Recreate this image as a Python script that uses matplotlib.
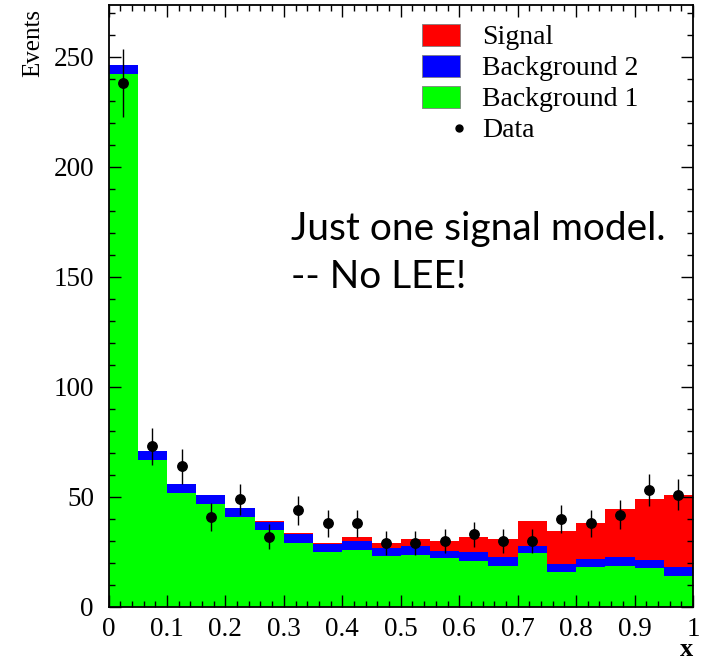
import numpy as np
import matplotlib
matplotlib.use("Agg")
import matplotlib.pyplot as plt
from matplotlib.patches import Patch
from matplotlib.lines import Line2D
from matplotlib.legend_handler import HandlerBase
from matplotlib.ticker import MultipleLocator

# ---- data ----
bin_edges = np.linspace(0.0, 1.0, 21)
background1 = [242.2, 66.9, 52.0, 46.9, 40.8, 35.0, 29.3, 24.8, 26.0, 23.2,
               23.7, 22.2, 20.7, 18.7, 24.4, 15.7, 18.1, 18.7, 17.6, 14.1]
background2 = [4.0, 4.1, 4.0, 4.1, 4.1, 3.5, 3.8, 3.7, 4.1, 3.8,
               4.2, 3.3, 4.1, 3.8, 3.5, 3.7, 3.6, 3.8, 3.8, 4.3]
signal = [0.05, 0.05, 0.1, 0.1, 0.1, 0.6, 0.7, 0.8, 1.6, 2.0,
          2.9, 4.6, 7.2, 8.5, 11.4, 15.2, 16.7, 22.1, 27.6, 32.6]
data = [238, 73, 64, 41, 49, 32, 44, 38, 38, 29,
        29, 30, 33, 30, 30, 40, 38, 42, 53, 51]
x_ticks = [0, 0.1, 0.2, 0.3, 0.4, 0.5, 0.6, 0.7, 0.8, 0.9, 1]
x_tick_labels = ["0", "0.1", "0.2", "0.3", "0.4", "0.5", "0.6", "0.7", "0.8", "0.9", "1"]
y_ticks = [0, 50, 100, 150, 200, 250]

serif = "Liberation Serif"

fig = plt.figure(figsize=(7.06, 6.60), dpi=100)
ax = fig.add_axes([108.5 / 706, 1 - 607 / 660, (693 - 108.5) / 706, (607 - 5) / 660])

b1 = np.array(background1)
b2 = np.array(background2)
sg = np.array(signal)
d = np.array(data, dtype=float)

ax.stairs(b1, bin_edges, baseline=0, fill=True, color="#00ff00", lw=0)
ax.stairs(b1 + b2, bin_edges, baseline=b1, fill=True, color="#0000ff", lw=0)
ax.stairs(b1 + b2 + sg, bin_edges, baseline=b1 + b2, fill=True, color="#ff0000", lw=0)

centers = 0.5 * (bin_edges[:-1] + bin_edges[1:])
ax.errorbar(centers, d, yerr=np.sqrt(d), fmt="o", color="black", ms=6.8,
            elinewidth=1.0, capsize=0, zorder=5)

ax.set_xlim(0, 1)
ax.set_ylim(0, 273.6)
ax.set_xticks(x_ticks)
ax.set_xticklabels(x_tick_labels)
ax.set_yticks(y_ticks)
ax.xaxis.set_minor_locator(MultipleLocator(0.02))
ax.yaxis.set_minor_locator(MultipleLocator(10))
ax.tick_params(which="both", direction="in", top=True, right=True, width=1.0)
ax.tick_params(which="major", length=8.5)
ax.tick_params(which="minor", length=4.3)
ax.tick_params(axis="y", pad=10.5)
ax.tick_params(axis="x", pad=7)
for lab in ax.get_xticklabels() + ax.get_yticklabels():
    lab.set_fontfamily(serif)
    lab.set_fontsize(19.5)
for s in ax.spines.values():
    s.set_linewidth(1.3)

fig.text(33 / 706, 1 - 9 / 660, "Events", rotation=90, ha="center", va="top",
         fontfamily=serif, fontsize=18)
fig.text(687 / 706, 1 - 650 / 660, "x", ha="center", va="center",
         fontfamily=serif, fontsize=19, fontweight="bold")

ax.text(0.313, 166.8, "Just one signal model.", fontfamily="Lato", fontsize=28,
        va="baseline", ha="left")
ax.text(0.313, 145.0, "-- No LEE!", fontfamily="Lato", fontsize=28,
        va="baseline", ha="left")


class RightDotHandler(HandlerBase):
    def create_artists(self, legend, orig_handle, xdescent, ydescent, width,
                       height, fontsize, trans):
        ln = Line2D([-xdescent + width * 0.98], [-ydescent + height / 2.0],
                    marker="o", color="black", ms=5, linestyle="none")
        ln.set_transform(trans)
        return [ln]


handles = [Patch(facecolor="#ff0000", edgecolor="#7f7f7f", lw=0.6),
           Patch(facecolor="#0000ff", edgecolor="#7f7f7f", lw=0.6),
           Patch(facecolor="#00ff00", edgecolor="#7f7f7f", lw=0.6),
           Line2D([], [], marker="o", color="black", linestyle="none")]
labels = ["Signal", "Background 2", "Background 1", "Data"]
leg = ax.legend(handles, labels, loc="upper left", bbox_to_anchor=(0.536, 0.969),
                frameon=False, borderpad=0, borderaxespad=0,
                handlelength=1.37, handleheight=0.86, handletextpad=0.79,
                labelspacing=0.15, prop={"family": serif, "size": 20},
                handler_map={handles[3]: RightDotHandler()})

fig.savefig("out.png", dpi=100)
